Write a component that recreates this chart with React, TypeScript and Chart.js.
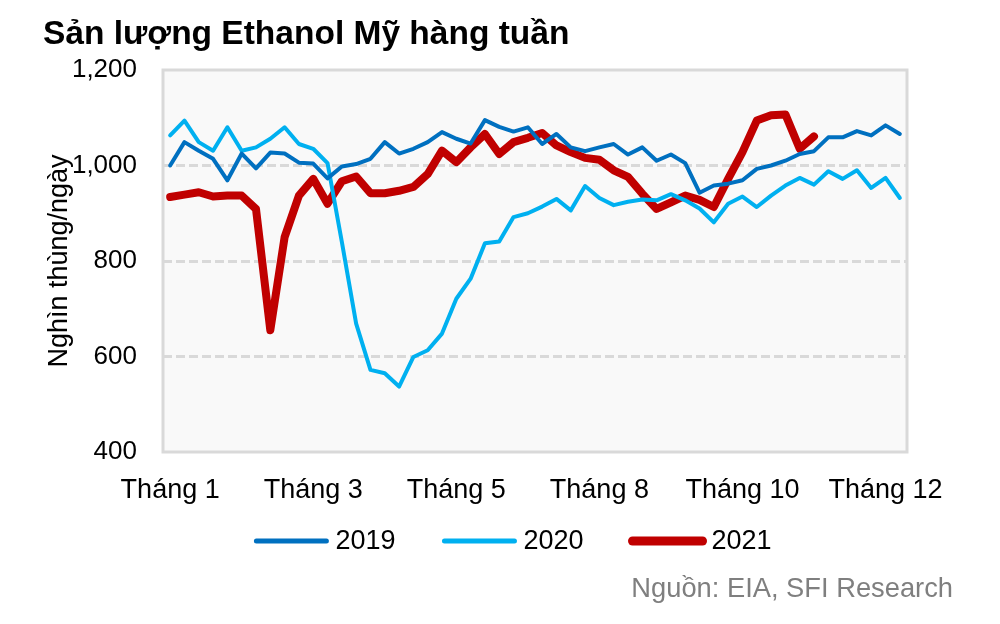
import React, { useEffect, useRef } from "react";
import { Chart, registerables } from "chart.js";

Chart.register(...registerables);

// 52 weekly categories
const weeks = [
  "1", "2", "3", "4", "5", "6", "7", "8", "9", "10",
  "11", "12", "13", "14", "15", "16", "17", "18", "19", "20",
  "21", "22", "23", "24", "25", "26", "27", "28", "29", "30",
  "31", "32", "33", "34", "35", "36", "37", "38", "39", "40",
  "41", "42", "43", "44", "45", "46", "47", "48", "49", "50",
  "51", "52",
];

// x tick labels, shown every 10 weeks
const monthTicks = ["Tháng 1", "Tháng 3", "Tháng 5", "Tháng 8", "Tháng 10", "Tháng 12"];
const tickEvery = 10;

// y ticks
const yMin = 400;
const yMax = 1200;
const yStep = 200;
const dashedGridValues = [600, 800, 1000];

const series2019 = [
  1000, 1049, 1031, 1014, 969, 1025, 994, 1027, 1025, 1006,
  1004, 973, 998, 1003, 1014, 1049, 1025, 1035, 1049, 1070,
  1056, 1046, 1095, 1081, 1071, 1080, 1045, 1066, 1038, 1030,
  1038, 1045, 1023, 1038, 1010, 1023, 1005, 943, 958, 962,
  969, 993, 1000, 1010, 1024, 1030, 1059, 1059, 1072, 1063,
  1084, 1066,
];

const series2020 = [
  1063, 1094, 1049, 1031, 1080, 1031, 1038, 1056, 1080, 1045,
  1035, 1005, 840, 669, 572, 565, 537, 599, 613, 648,
  721, 763, 837, 841, 892, 900, 914, 930, 906, 957,
  932, 917, 924, 929, 927, 940, 927, 910, 881, 920,
  935, 913, 937, 958, 974, 960, 988, 972, 990, 953,
  974, 932,
];

const series2021 = [
  934, 939, 944, 935, 937, 937, 909, 655, 850, 937,
  972, 920, 967, 977, 942, 942, 947, 955, 982, 1031,
  1007, 1038, 1066, 1024, 1049, 1058, 1068, 1042, 1028, 1016,
  1012, 990, 976, 941, 909, 923, 937, 928, 913, 972,
  1028, 1094, 1105, 1107, 1035, 1061,
];

const seriesNames = ["2019", "2020", "2021"];

const FONT = "'Liberation Sans', Arial, Helvetica, sans-serif";

export default function App() {
  const ref = useRef<HTMLCanvasElement | null>(null);

  useEffect(() => {
    if (!ref.current) return;

    const plotFrame = {
      id: "plotFrame",
      beforeDraw(chart: any) {
        const { ctx, chartArea: a } = chart;
        ctx.save();
        ctx.fillStyle = "#f9f9f9";
        ctx.fillRect(a.left, a.top, a.right - a.left, a.bottom - a.top);
        ctx.restore();
      },
      beforeDatasetsDraw(chart: any) {
        const { ctx, chartArea: a } = chart;
        ctx.save();
        ctx.strokeStyle = "#d9d9d9";
        ctx.lineWidth = 3;
        ctx.strokeRect(a.left, a.top, a.right - a.left, a.bottom - a.top);
        ctx.restore();
      },
    };

    const lineLegend = {
      id: "lineLegend",
      afterDraw(chart: any) {
        const ctx = chart.ctx;
        ctx.save();
        ctx.font = `27px ${FONT}`;
        const L = 70;
        const gap = 9;
        const space = 49;
        const items = chart.data.datasets.map((d: any) => ({
          label: d.label,
          color: d.borderColor,
          width: d.borderWidth + 1,
          tw: ctx.measureText(d.label).width,
        }));
        const total =
          items.reduce((s: number, it: any) => s + L + gap + it.tw, 0) +
          space * (items.length - 1);
        let x = 514 - total / 2;
        const y = 541;
        items.forEach((it: any) => {
          ctx.strokeStyle = it.color;
          ctx.lineWidth = it.width;
          ctx.lineCap = "round";
          ctx.beginPath();
          ctx.moveTo(x, y);
          ctx.lineTo(x + L, y);
          ctx.stroke();
          ctx.fillStyle = "#000";
          ctx.textBaseline = "middle";
          ctx.textAlign = "left";
          ctx.fillText(it.label, x + L + gap, y + 1);
          x += L + gap + it.tw + space;
        });
        ctx.restore();
      },
    };

    const chart = new Chart(ref.current, {
      type: "line",
      data: {
        labels: weeks,
        datasets: [
          {
            label: seriesNames[0],
            data: series2019,
            borderColor: "#0070C0",
            backgroundColor: "#0070C0",
            borderWidth: 4,
            pointRadius: 0,
            tension: 0,
            borderJoinStyle: "round",
            borderCapStyle: "round",
          },
          {
            label: seriesNames[1],
            data: series2020,
            borderColor: "#00B0F0",
            backgroundColor: "#00B0F0",
            borderWidth: 4,
            pointRadius: 0,
            tension: 0,
            borderJoinStyle: "round",
            borderCapStyle: "round",
          },
          {
            label: seriesNames[2],
            data: series2021,
            borderColor: "#C00000",
            backgroundColor: "#C00000",
            borderWidth: 8,
            pointRadius: 0,
            tension: 0,
            borderJoinStyle: "round",
            borderCapStyle: "round",
          },
        ],
      },
      options: {
        animation: false,
        responsive: false,
        maintainAspectRatio: false,
        layout: { padding: { left: 0, top: 70, right: 93, bottom: 112 } },
        plugins: {
          legend: { display: false },
          tooltip: { enabled: false },
          title: { display: false },
        },
        scales: {
          x: {
            offset: true,
            grid: { display: false },
            border: { display: false },
            ticks: {
              autoSkip: false,
              maxRotation: 0,
              minRotation: 0,
              padding: 14,
              color: "#000",
              font: { family: FONT, size: 27 },
              callback: (_v: any, i: number) =>
                i % tickEvery === 0 ? monthTicks[i / tickEvery] ?? "" : "",
            },
            afterFit: (s: any) => {
              s.height = 60;
            },
          },
          y: {
            min: yMin,
            max: yMax,
            ticks: {
              stepSize: yStep,
              padding: 26,
              color: "#000",
              font: { family: FONT, size: 26 },
              callback: (v: any) => Number(v).toLocaleString("en-US"),
            },
            grid: {
              drawTicks: false,
              lineWidth: 3,
              color: (c: any) =>
                c.tick && dashedGridValues.includes(c.tick.value)
                  ? "#d9d9d9"
                  : "rgba(0,0,0,0)",
            },
            border: { display: false, dash: [9, 4] },
            title: {
              display: true,
              text: "Nghìn thùng/ngày",
              color: "#000",
              font: { family: FONT, size: 27 },
              padding: { top: 43, bottom: 0 },
            },
            afterFit: (s: any) => {
              s.width = 163;
            },
          },
        },
      },
      plugins: [plotFrame, lineLegend],
    } as any);

    return () => chart.destroy();
  }, []);

  return (
    <div
      style={{
        position: "absolute",
        left: 0,
        top: 0,
        width: 1000,
        height: 624,
        background: "#fff",
        overflow: "hidden",
      }}
    >
      <canvas ref={ref} width={1000} height={624} style={{ display: "block" }} />
      <div
        style={{
          position: "absolute",
          left: 43,
          top: 16,
          fontFamily: FONT,
          fontWeight: "bold",
          fontSize: 33.5,
          lineHeight: "34px",
          color: "#000",
          whiteSpace: "nowrap",
        }}
      >
        Sản lượng Ethanol Mỹ hàng tuần
      </div>
      <div
        style={{
          position: "absolute",
          right: 47,
          top: 574,
          fontFamily: FONT,
          fontSize: 27.3,
          lineHeight: "27px",
          color: "#7f7f7f",
          whiteSpace: "nowrap",
        }}
      >
        Nguồn: EIA, SFI Research
      </div>
    </div>
  );
}
